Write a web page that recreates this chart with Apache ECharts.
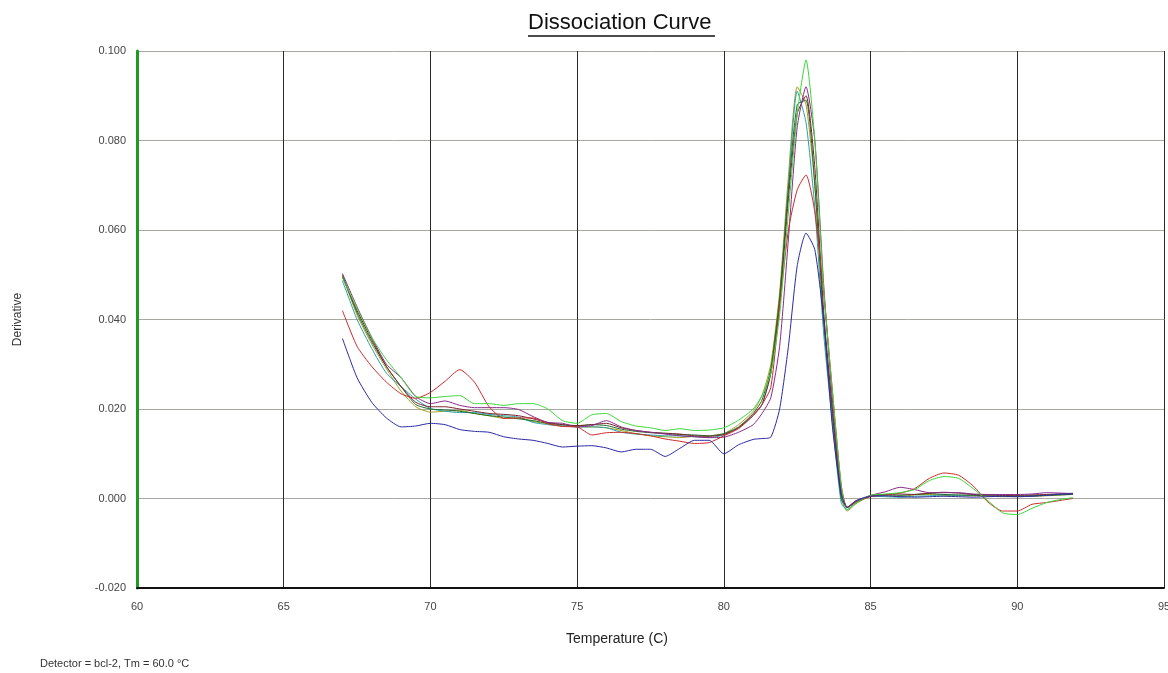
<!DOCTYPE html>
<html>
<head>
<meta charset="utf-8">
<script src="https://cdn.jsdelivr.net/npm/echarts@6/dist/echarts.min.js"></script>
<style>
html,body{margin:0;padding:0;background:#fff;}
#chart{width:1168px;height:673px;}
</style>
</head>
<body>
<div id="chart"></div>
<script>
// Temperatures (C)
const temps = [67.0, 67.5, 68.0, 68.5, 69.0, 69.5, 70.0, 70.5, 71.0, 71.5, 72.0, 72.5, 73.0, 73.5, 74.0, 74.5, 75.0, 75.5, 76.0, 76.5, 77.0, 77.5, 78.0, 78.5, 79.0, 79.5, 80.0, 80.5, 81.0, 81.3, 81.6, 81.9, 82.2, 82.5, 82.8, 83.1, 83.4, 83.7, 84.0, 84.2, 84.5, 85.0, 85.5, 86.0, 86.5, 87.0, 87.5, 88.0, 88.5, 89.0, 89.5, 90.0, 90.5, 91.0, 91.5, 91.9];

const blue = [0.0358, 0.0270, 0.0215, 0.0180, 0.0160, 0.0162, 0.0168, 0.0165, 0.0154, 0.0150, 0.0148, 0.0138, 0.0133, 0.0130, 0.0123, 0.0115, 0.0117, 0.0118, 0.0113, 0.0104, 0.0110, 0.0110, 0.0094, 0.0112, 0.0130, 0.0130, 0.0100, 0.0120, 0.0132, 0.0134, 0.0137, 0.0200, 0.0340, 0.0520, 0.0593, 0.0556, 0.0400, 0.0160, 0.0010, -0.0020, -0.0005, 0.0005, 0.0006, 0.0004, 0.0003, 0.0004, 0.0005, 0.0004, 0.0003, 0.0004, 0.0005, 0.0004, 0.0005, 0.0007, 0.0010, 0.0010];

const red = [0.0420, 0.0340, 0.0295, 0.0260, 0.0234, 0.0224, 0.0237, 0.0262, 0.0288, 0.0260, 0.0205, 0.0179, 0.0180, 0.0180, 0.0167, 0.0161, 0.0160, 0.0142, 0.0147, 0.0148, 0.0145, 0.0140, 0.0133, 0.0128, 0.0123, 0.0125, 0.0140, 0.0156, 0.0185, 0.0210, 0.0248, 0.0430, 0.0600, 0.0690, 0.0723, 0.0640, 0.0460, 0.0240, 0.0030, -0.0020, -0.0008, 0.0004, 0.0008, 0.0012, 0.0022, 0.0045, 0.0057, 0.0052, 0.0028, -0.0008, -0.0028, -0.0028, -0.0013, -0.0009, -0.0004, 0.0000];

const green = [0.0494, 0.0425, 0.0360, 0.0310, 0.0270, 0.0228, 0.0225, 0.0228, 0.0230, 0.0212, 0.0212, 0.0208, 0.0212, 0.0212, 0.0200, 0.0174, 0.0168, 0.0187, 0.0190, 0.0172, 0.0162, 0.0158, 0.0152, 0.0156, 0.0152, 0.0153, 0.0158, 0.0175, 0.0200, 0.0230, 0.0280, 0.0410, 0.0640, 0.0860, 0.0980, 0.0800, 0.0470, 0.0240, 0.0030, -0.0025, -0.0010, 0.0007, 0.0010, 0.0013, 0.0020, 0.0040, 0.0049, 0.0045, 0.0022, -0.0005, -0.0032, -0.0036, -0.0022, -0.0009, -0.0002, 0.0002];

const purple = [0.0503, 0.0428, 0.0360, 0.0300, 0.0270, 0.0228, 0.0212, 0.0218, 0.0208, 0.0203, 0.0203, 0.0203, 0.0199, 0.0183, 0.0170, 0.0168, 0.0160, 0.0163, 0.0174, 0.0160, 0.0152, 0.0148, 0.0144, 0.0140, 0.0138, 0.0136, 0.0137, 0.0148, 0.0165, 0.0190, 0.0225, 0.0340, 0.0580, 0.0830, 0.0920, 0.0800, 0.0480, 0.0220, 0.0020, -0.0020, -0.0005, 0.0007, 0.0015, 0.0025, 0.0020, 0.0013, 0.0013, 0.0013, 0.0010, 0.0009, 0.0009, 0.0009, 0.0010, 0.0013, 0.0012, 0.0011];

const olive = [0.0498, 0.0410, 0.0345, 0.0290, 0.0240, 0.0205, 0.0193, 0.0195, 0.0197, 0.0190, 0.0185, 0.0179, 0.0180, 0.0172, 0.0167, 0.0162, 0.0160, 0.0160, 0.0158, 0.0152, 0.0145, 0.0140, 0.0138, 0.0136, 0.0139, 0.0140, 0.0145, 0.0165, 0.0195, 0.0230, 0.0300, 0.0460, 0.0720, 0.0920, 0.0880, 0.0700, 0.0400, 0.0180, 0.0000, -0.0028, -0.0012, 0.0005, 0.0006, 0.0004, 0.0008, 0.0009, 0.0007, 0.0006, 0.0006, 0.0005, 0.0004, 0.0004, 0.0005, 0.0006, 0.0008, 0.0010];

const teal = [0.0487, 0.0400, 0.0335, 0.0280, 0.0250, 0.0222, 0.0201, 0.0195, 0.0192, 0.0192, 0.0188, 0.0185, 0.0182, 0.0170, 0.0165, 0.0162, 0.0160, 0.0160, 0.0158, 0.0148, 0.0144, 0.0142, 0.0140, 0.0140, 0.0138, 0.0136, 0.0142, 0.0158, 0.0185, 0.0210, 0.0280, 0.0440, 0.0700, 0.0910, 0.0840, 0.0650, 0.0370, 0.0170, -0.0010, -0.0025, -0.0010, 0.0005, 0.0004, 0.0003, 0.0005, 0.0006, 0.0008, 0.0007, 0.0008, 0.0008, 0.0007, 0.0006, 0.0006, 0.0008, 0.0010, 0.0012];

const darkGreen = [0.0500, 0.0415, 0.0350, 0.0295, 0.0250, 0.0210, 0.0200, 0.0198, 0.0195, 0.0190, 0.0185, 0.0182, 0.0178, 0.0174, 0.0168, 0.0165, 0.0162, 0.0165, 0.0163, 0.0155, 0.0150, 0.0147, 0.0145, 0.0143, 0.0142, 0.0140, 0.0145, 0.0160, 0.0190, 0.0220, 0.0290, 0.0450, 0.0690, 0.0880, 0.0890, 0.0700, 0.0400, 0.0190, 0.0000, -0.0020, -0.0008, 0.0006, 0.0008, 0.0007, 0.0009, 0.0011, 0.0009, 0.0008, 0.0007, 0.0006, 0.0005, 0.0005, 0.0006, 0.0007, 0.0008, 0.0009];

const maroon = [0.0495, 0.0420, 0.0355, 0.0295, 0.0250, 0.0215, 0.0205, 0.0205, 0.0200, 0.0195, 0.0190, 0.0188, 0.0185, 0.0178, 0.0170, 0.0165, 0.0163, 0.0165, 0.0168, 0.0158, 0.0152, 0.0148, 0.0146, 0.0144, 0.0140, 0.0139, 0.0143, 0.0158, 0.0188, 0.0210, 0.0280, 0.0430, 0.0670, 0.0860, 0.0900, 0.0740, 0.0420, 0.0200, 0.0010, -0.0020, -0.0008, 0.0006, 0.0009, 0.0010, 0.0009, 0.0012, 0.0014, 0.0012, 0.0009, 0.0008, 0.0007, 0.0007, 0.0008, 0.0009, 0.0010, 0.0011];

const seriesList = [
  {name: 'S1', values: olive, color: '#a6a020'},
  {name: 'S2', values: teal, color: '#2aa0a8'},
  {name: 'S3', values: darkGreen, color: '#1e6e2a'},
  {name: 'S4', values: maroon, color: '#7a2430'},
  {name: 'S5', values: purple, color: '#8a2a8a'},
  {name: 'S6', values: red, color: '#cc2a2a'},
  {name: 'S7', values: green, color: '#3ad83a'},
  {name: 'S8', values: blue, color: '#2a2aa6'}
];

const xTicks = [60, 65, 70, 75, 80, 85, 90, 95];
const yTicks = [-0.02, 0.0, 0.02, 0.04, 0.06, 0.08, 0.1];

const FONT = '"Liberation Sans", Arial, sans-serif';
const chart = echarts.init(document.getElementById('chart'), null, {renderer: 'canvas'});

const option = {
  backgroundColor: '#ffffff',
  animation: false,
  grid: {left: 137, right: 4, top: 51, bottom: 85, containLabel: false, outerBoundsMode: 'none'},
  xAxis: {
    type: 'value', min: xTicks[0], max: xTicks[xTicks.length - 1], interval: 5,
    axisLine: {show: true, onZero: false, lineStyle: {color: '#111', width: 2}},
    axisTick: {show: false},
    axisLabel: {fontFamily: FONT, fontSize: 11, color: '#444', margin: 13},
    splitLine: {show: true, lineStyle: {color: '#2a2a2a', width: 1}}
  },
  yAxis: {
    type: 'value', min: yTicks[0], max: yTicks[yTicks.length - 1], interval: 0.02,
    name: 'Derivative', nameLocation: 'middle', nameGap: 113, nameRotate: 90,
    nameTextStyle: {fontFamily: FONT, fontSize: 12, color: '#333'},
    axisLine: {show: true, onZero: false, lineStyle: {color: '#1f9a22', width: 3}},
    axisTick: {show: false},
    axisLabel: {fontFamily: FONT, fontSize: 11, color: '#444', margin: 11,
      formatter: v => v.toFixed(3)},
    splitLine: {show: true, lineStyle: {color: '#a8a8a2', width: 1}}
  },
  graphic: [
    {type: 'text', left: 528, top: 12, style: {text: 'Dissociation Curve', fontFamily: FONT, fontSize: 22, fill: '#111'}},
    {type: 'line', shape: {x1: 528, y1: 36, x2: 715, y2: 36}, style: {stroke: '#111', lineWidth: 1.5}},
    {type: 'text', left: 566, top: 632, style: {text: 'Temperature (C)', fontFamily: FONT, fontSize: 14, fill: '#222'}},
    {type: 'text', left: 40, top: 658, style: {text: 'Detector = bcl-2, Tm = 60.0 °C', fontFamily: FONT, fontSize: 11, fill: '#333'}}
  ],
  series: seriesList.map(s => ({
    name: s.name, type: 'line', showSymbol: false, smooth: 0.2,
    lineStyle: {color: s.color, width: 1},
    itemStyle: {color: s.color},
    data: temps.map((t, i) => [t, s.values[i]])
  }))
};
chart.setOption(option);
</script>
</body>
</html>
